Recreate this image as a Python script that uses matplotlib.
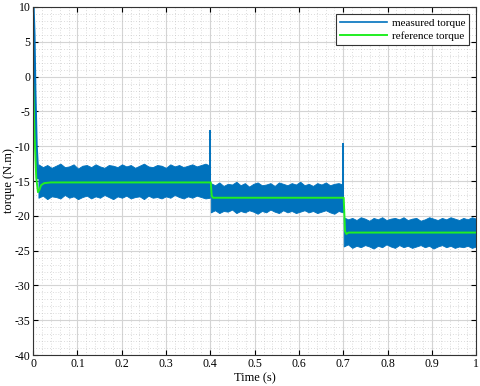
import matplotlib.pyplot as plt
from matplotlib.ticker import MultipleLocator, FuncFormatter
import numpy as np

plt.rcParams['font.family'] = ['Liberation Serif', 'DejaVu Serif']
plt.rcParams['axes.unicode_minus'] = False

# ---------- data ----------
# measured torque: noise band envelopes for each load step
seg1_t = np.linspace(0.012, 0.399, 40)
seg1_hi = [-12.6, -13.0, -12.7, -13.1, -12.8, -12.5, -13.0, -12.9, -12.6, -13.2,
           -12.8, -12.7, -13.0, -12.6, -12.9, -13.1, -12.7, -12.8, -13.0, -12.6,
           -12.9, -12.7, -13.1, -12.8, -12.5, -12.9, -13.0, -12.7, -12.8, -13.1,
           -12.6, -12.9, -12.7, -13.0, -12.8, -12.6, -12.9, -12.7, -12.5, -12.8]
seg1_lo = [-17.4, -17.1, -17.6, -17.2, -17.3, -17.5, -17.0, -17.4, -17.2, -17.6,
           -17.3, -17.1, -17.5, -17.2, -17.4, -17.0, -17.3, -17.6, -17.2, -17.4,
           -17.1, -17.5, -17.3, -17.2, -17.6, -17.1, -17.4, -17.3, -17.5, -17.2,
           -17.4, -17.0, -17.3, -17.5, -17.2, -17.4, -17.1, -17.3, -17.5, -17.4]

seg2_t = np.linspace(0.401, 0.699, 32)
seg2_hi = [-15.3, -15.6, -15.2, -15.7, -15.4, -15.5, -15.1, -15.6, -15.3, -15.8,
           -15.4, -15.2, -15.6, -15.5, -15.3, -15.7, -15.2, -15.4, -15.6, -15.3,
           -15.5, -15.1, -15.6, -15.4, -15.7, -15.3, -15.5, -15.2, -15.6, -15.4,
           -15.3, -15.5]
seg2_lo = [-19.5, -19.2, -19.6, -19.3, -19.4, -19.1, -19.6, -19.3, -19.5, -19.2,
           -19.4, -19.7, -19.3, -19.5, -19.1, -19.4, -19.6, -19.2, -19.5, -19.3,
           -19.6, -19.4, -19.2, -19.5, -19.3, -19.6, -19.4, -19.2, -19.5, -19.7,
           -19.3, -19.5]

seg3_t = np.linspace(0.701, 1.0, 32)
seg3_hi = [-20.2, -20.5, -20.3, -20.6, -20.2, -20.4, -20.7, -20.3, -20.5, -20.2,
           -20.6, -20.4, -20.3, -20.5, -20.2, -20.6, -20.4, -20.3, -20.7, -20.5,
           -20.2, -20.4, -20.6, -20.3, -20.5, -20.2, -20.4, -20.6, -20.3, -20.5,
           -20.2, -20.4]
seg3_lo = [-24.4, -24.1, -24.6, -24.3, -24.5, -24.2, -24.4, -24.7, -24.3, -24.5,
           -24.1, -24.4, -24.6, -24.2, -24.5, -24.3, -24.6, -24.4, -24.2, -24.5,
           -24.3, -24.7, -24.4, -24.2, -24.5, -24.3, -24.6, -24.4, -24.5, -24.3,
           -24.6, -24.4]

# start-up transient of the measured torque
start_t = [0.0, 0.002, 0.004, 0.007, 0.010, 0.012]
start_v = [10.0, 6.0, -2.0, -10.0, -13.5, -14.5]

# spikes at the load steps
spike_t = [0.400, 0.700]
spike_base = [-17.0, -19.5]
spike_peak = [-7.7, -9.5]

# reference torque
ref_t = [0.0, 0.003, 0.007, 0.011, 0.014, 0.018, 0.025, 0.04, 0.401,
         0.403, 0.406, 0.701, 0.704, 0.707, 0.712, 1.0]
ref_v = [-1.0, -8.0, -14.5, -16.6, -16.3, -15.6, -15.3, -15.2, -15.2,
         -17.1, -17.4, -17.4, -22.2, -22.6, -22.4, -22.4]

# ---------- plot ----------
blue = '#0072BD'
green = '#22EE22'

fig = plt.figure(figsize=(4.8, 3.86), dpi=100)
ax = fig.add_axes([0.069, 0.080, 0.923, 0.902])

for t, hi, lo in [(seg1_t, seg1_hi, seg1_lo), (seg2_t, seg2_hi, seg2_lo),
                  (seg3_t, seg3_hi, seg3_lo)]:
    ax.fill_between(t, lo, hi, color=blue, lw=0.6, edgecolor=blue)
ax.plot(start_t, start_v, color=blue, lw=2.2)
ax.vlines(spike_t, spike_base, spike_peak, color=blue, lw=1.4)
ax.plot([], [], color=blue, lw=1.2, label='measured torque')

ax.plot(ref_t, ref_v, color=green, lw=1.4, label='reference torque')

ax.set_xlim(0, 1)
ax.set_ylim(-40, 10)
ax.xaxis.set_major_locator(MultipleLocator(0.1))
ax.yaxis.set_major_locator(MultipleLocator(5))
ax.xaxis.set_minor_locator(MultipleLocator(0.02))
ax.yaxis.set_minor_locator(MultipleLocator(1))
ax.xaxis.set_major_formatter(FuncFormatter(lambda v, p: '%g' % round(v, 2)))
ax.grid(which='major', color='#d4d4d4', lw=0.8)
ax.grid(which='minor', color='#bbbbbb', lw=0.5, ls=(0, (1, 3)))
ax.set_axisbelow(True)
ax.tick_params(which='both', direction='in', top=True, right=True, labelsize=8.5, pad=2)
ax.tick_params(which='minor', length=0)
for s in ax.spines.values():
    s.set_color('#333333')

ax.set_xlabel('Time (s)', fontsize=9, labelpad=2)
ax.set_ylabel('torque (N.m)', fontsize=9, labelpad=0)

leg = ax.legend(loc='upper right', fontsize=8, handlelength=4.2, fancybox=False,
                framealpha=1, edgecolor='#333333', borderaxespad=0.6,
                labelspacing=0.3, handletextpad=0.4)
leg.get_frame().set_linewidth(0.8)

fig.savefig('out.png', dpi=100)
